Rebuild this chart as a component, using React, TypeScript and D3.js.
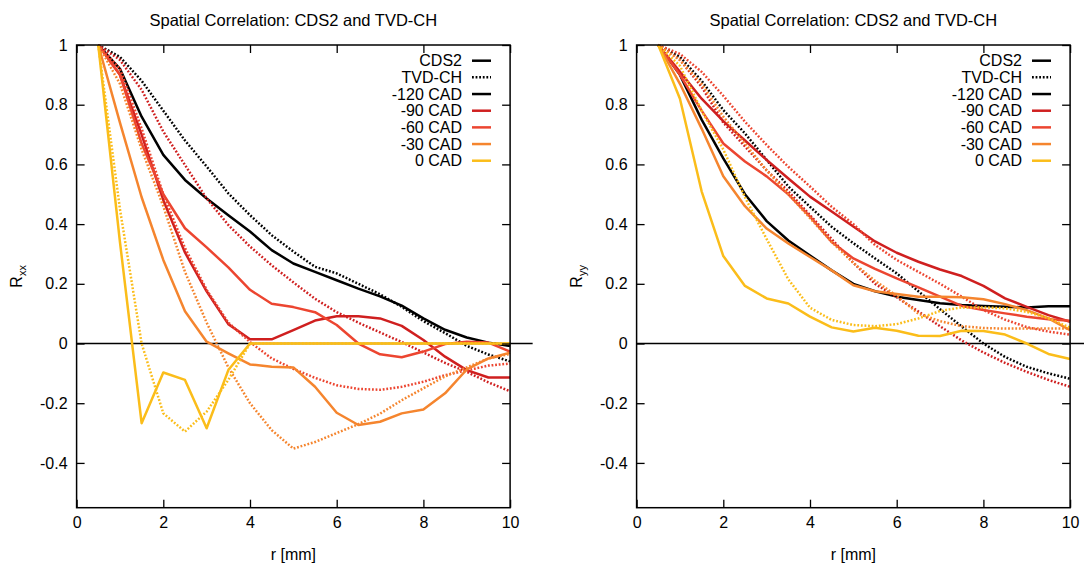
import React, { useEffect, useRef } from "react";
import * as d3 from "d3";

// r [mm] sample positions
const rValues = [0.5, 1, 1.5, 2, 2.5, 3, 3.5, 4, 4.5, 5, 5.5, 6, 6.5, 7, 7.5, 8, 8.5, 9, 9.5, 10];

const cadLabels = ["-120 CAD", "-90 CAD", "-60 CAD", "-30 CAD", "0 CAD"];
const cadColors = ["#000000", "#cf1f1f", "#ec4530", "#f5852e", "#fbbd1a"];

const xTicks = [0, 2, 4, 6, 8, 10];
const yTicks = [1, 0.8, 0.6, 0.4, 0.2, 0, -0.2, -0.4];
const yTickLabels = ["1", "0.8", "0.6", "0.4", "0.2", "0", "-0.2", "-0.4"];

// R_xx, CDS2 (solid)
const rxxCds2M120 = [1, 0.92, 0.76, 0.632, 0.548, 0.486, 0.43, 0.375, 0.313, 0.268, 0.24, 0.212, 0.184, 0.158, 0.127, 0.084, 0.046, 0.02, 0.003, -0.008];
const rxxCds2M90 = [1, 0.9, 0.7, 0.48, 0.305, 0.175, 0.065, 0.014, 0.014, 0.045, 0.077, 0.091, 0.091, 0.084, 0.059, 0.012, -0.044, -0.089, -0.114, -0.114];
const rxxCds2M60 = [1, 0.9, 0.67, 0.5, 0.386, 0.322, 0.255, 0.18, 0.133, 0.122, 0.105, 0.062, 0.0, -0.036, -0.046, -0.027, -0.002, 0.006, 0.003, -0.027];
const rxxCds2M30 = [1, 0.74, 0.49, 0.28, 0.108, 0.006, -0.033, -0.07, -0.078, -0.08, -0.145, -0.232, -0.273, -0.262, -0.234, -0.221, -0.167, -0.087, -0.05, -0.031];
const rxxCds2Z0 = [1, 0.34, -0.267, -0.097, -0.122, -0.284, -0.089, 0, 0, 0, 0, 0, 0, 0, 0, 0, 0, 0, 0, 0];

// R_xx, TVD-CH (dotted)
const rxxTvdM120 = [1, 0.96, 0.88, 0.78, 0.68, 0.593, 0.503, 0.43, 0.363, 0.308, 0.257, 0.235, 0.2, 0.165, 0.123, 0.075, 0.035, -0.008, -0.037, -0.06];
const rxxTvdM90 = [1, 0.95, 0.85, 0.71, 0.598, 0.486, 0.397, 0.325, 0.262, 0.205, 0.15, 0.105, 0.07, 0.037, 0.005, -0.03, -0.065, -0.095, -0.13, -0.16];
const rxxTvdM60 = [1, 0.92, 0.72, 0.5, 0.32, 0.18, 0.07, 0.005, -0.05, -0.085, -0.115, -0.14, -0.152, -0.155, -0.145, -0.128, -0.106, -0.09, -0.074, -0.067];
const rxxTvdM30 = [1, 0.87, 0.65, 0.46, 0.24, 0.07, -0.08, -0.2, -0.29, -0.352, -0.33, -0.3, -0.27, -0.235, -0.19, -0.15, -0.11, -0.08, -0.05, -0.035];
const rxxTvdZ0 = [1, 0.45, 0.0, -0.234, -0.295, -0.228, -0.122, 0, 0, 0, 0, 0, 0, 0, 0, 0, 0, 0, 0, 0];

// R_yy, CDS2 (solid)
const ryyCds2M120 = [1, 0.9, 0.75, 0.62, 0.5, 0.41, 0.345, 0.295, 0.245, 0.2, 0.175, 0.157, 0.146, 0.135, 0.129, 0.126, 0.123, 0.121, 0.125, 0.125];
const ryyCds2M90 = [1, 0.91, 0.82, 0.745, 0.68, 0.615, 0.553, 0.492, 0.442, 0.392, 0.342, 0.304, 0.274, 0.248, 0.226, 0.193, 0.151, 0.123, 0.095, 0.073];
const ryyCds2M60 = [1, 0.9, 0.78, 0.67, 0.61, 0.56, 0.5, 0.425, 0.34, 0.285, 0.25, 0.218, 0.188, 0.157, 0.126, 0.112, 0.101, 0.09, 0.081, 0.076];
const ryyCds2M30 = [1, 0.87, 0.72, 0.56, 0.46, 0.385, 0.335, 0.29, 0.245, 0.195, 0.175, 0.166, 0.157, 0.157, 0.155, 0.148, 0.132, 0.112, 0.084, 0.045];
const ryyCds2Z0 = [1, 0.82, 0.51, 0.293, 0.193, 0.151, 0.134, 0.09, 0.054, 0.04, 0.053, 0.043, 0.026, 0.025, 0.043, 0.042, 0.03, 0.0, -0.035, -0.052];

// R_yy, TVD-CH (dotted)
const ryyTvdM120 = [1, 0.96, 0.88, 0.782, 0.704, 0.615, 0.526, 0.458, 0.391, 0.336, 0.285, 0.235, 0.175, 0.115, 0.057, 0.0, -0.045, -0.078, -0.1, -0.118];
const ryyTvdM90 = [1, 0.95, 0.86, 0.74, 0.66, 0.58, 0.51, 0.43, 0.35, 0.27, 0.2, 0.155, 0.107, 0.058, 0.01, -0.03, -0.065, -0.095, -0.122, -0.145];
const ryyTvdM60 = [1, 0.97, 0.91, 0.83, 0.743, 0.665, 0.592, 0.526, 0.458, 0.4, 0.33, 0.28, 0.24, 0.2, 0.157, 0.112, 0.08, 0.055, 0.04, 0.03];
const ryyTvdM30 = [1, 0.95, 0.87, 0.76, 0.67, 0.58, 0.5, 0.42, 0.34, 0.27, 0.21, 0.16, 0.1, 0.075, 0.058, 0.052, 0.05, 0.05, 0.05, 0.05];
const ryyTvdZ0 = [1, 0.93, 0.78, 0.65, 0.49, 0.35, 0.215, 0.12, 0.079, 0.062, 0.058, 0.065, 0.084, 0.109, 0.121, 0.121, 0.118, 0.106, 0.085, 0.053];

const panels = [
  {
    title: "Spatial Correlation: CDS2 and TVD-CH",
    sub: "xx",
    dx: 0,
    cds2: [rxxCds2M120, rxxCds2M90, rxxCds2M60, rxxCds2M30, rxxCds2Z0],
    tvd: [rxxTvdM120, rxxTvdM90, rxxTvdM60, rxxTvdM30, rxxTvdZ0],
  },
  {
    title: "Spatial Correlation: CDS2 and TVD-CH",
    sub: "yy",
    dx: 560,
    cds2: [ryyCds2M120, ryyCds2M90, ryyCds2M60, ryyCds2M30, ryyCds2Z0],
    tvd: [ryyTvdM120, ryyTvdM90, ryyTvdM60, ryyTvdM30, ryyTvdZ0],
  },
];

const config = {
  width: 1084,
  height: 564,
  left: 76.6,
  plotw: 433.5,
  top: 45,
  bottom: 507.7,
  font: "'Liberation Sans', Arial, Helvetica, sans-serif",
  fontSize: 16,
  tick: 8,
  dots: "1.8,1.8",
};

function drawPanel(svg: any, p: any) {
  const x = d3.scaleLinear().domain([0, 10]).range([config.left + p.dx, config.left + p.dx + config.plotw]);
  const y = d3.scaleLinear().domain([-0.55, 1]).range([config.bottom, config.top]);
  const g = svg.append("g").attr("font-family", config.font);

  // zero axis runs a bit past the right frame
  g.append("line")
    .attr("x1", x(0)).attr("x2", x(10.52))
    .attr("y1", y(0)).attr("y2", y(0))
    .attr("stroke", "#000").attr("stroke-width", 1.3);

  const line = d3.line<number>().x((d, i) => x(rValues[i])).y((d) => y(d));

  p.cds2.forEach((vals: number[], k: number) => {
    g.append("path").attr("d", line(vals))
      .attr("fill", "none").attr("stroke", cadColors[k])
      .attr("stroke-width", 2.5).attr("stroke-linejoin", "round");
    g.append("path").attr("d", line(p.tvd[k]))
      .attr("fill", "none").attr("stroke", cadColors[k])
      .attr("stroke-width", 2.5).attr("stroke-dasharray", config.dots);
  });

  // axes, ticks mirrored inside the frame
  const styleAxis = (a: any) => {
    a.select(".domain").remove();
    a.selectAll("line").attr("stroke", "#000").attr("stroke-width", 1.3);
    a.selectAll("text").attr("font-family", config.font).attr("font-size", config.fontSize).attr("fill", "#000");
  };
  g.append("g").attr("transform", `translate(${x(0)},0)`)
    .call(d3.axisLeft(y).tickValues(yTicks).tickSize(-config.tick).tickPadding(9)
      .tickFormat((d, i) => yTickLabels[i]))
    .call(styleAxis);
  g.append("g").attr("transform", `translate(${x(10)},0)`)
    .call(d3.axisRight(y).tickValues(yTicks).tickSize(-config.tick).tickFormat(() => ""))
    .call(styleAxis);
  g.append("g").attr("transform", `translate(0,${y(-0.55)})`)
    .call(d3.axisBottom(x).tickValues(xTicks).tickSize(-config.tick).tickPadding(9)
      .tickFormat(d3.format("d")))
    .call(styleAxis);
  g.append("g").attr("transform", `translate(0,${y(1)})`)
    .call(d3.axisTop(x).tickValues(xTicks).tickSize(-config.tick).tickFormat(() => ""))
    .call(styleAxis);

  g.append("rect")
    .attr("x", x(0)).attr("y", y(1))
    .attr("width", x(10) - x(0)).attr("height", y(-0.55) - y(1))
    .attr("fill", "none").attr("stroke", "#000").attr("stroke-width", 1.5);

  // titles
  const cx = (x(0) + x(10)) / 2;
  g.append("text").attr("x", cx).attr("y", 20).attr("dy", "0.35em")
    .attr("text-anchor", "middle").attr("font-size", 16.5).text(p.title);
  g.append("text").attr("x", cx).attr("y", 554).attr("dy", "0.35em")
    .attr("text-anchor", "middle").attr("font-size", config.fontSize).text("r [mm]");
  const yl = g.append("text")
    .attr("transform", `translate(${p.dx + 22},${(y(1) + y(-0.55)) / 2}) rotate(-90)`)
    .attr("text-anchor", "middle").attr("font-size", config.fontSize);
  yl.append("tspan").text("R");
  yl.append("tspan").attr("font-size", 11).attr("dy", 4).text(p.sub);

  // legend
  const legendItems = [
    { label: "CDS2", color: "#000", dash: null },
    { label: "TVD-CH", color: "#000", dash: config.dots },
    ...cadLabels.map((l, i) => ({ label: l, color: cadColors[i], dash: null })),
  ];
  const lg = g.append("g");
  legendItems.forEach((it, i) => {
    const ly = 60.7 + i * 16.67;
    lg.append("text").attr("x", p.dx + 462).attr("y", ly).attr("dy", "0.35em")
      .attr("text-anchor", "end").attr("font-size", config.fontSize).text(it.label);
    lg.append("line").attr("x1", p.dx + 472).attr("x2", p.dx + 491)
      .attr("y1", ly).attr("y2", ly)
      .attr("stroke", it.color).attr("stroke-width", 2.5)
      .attr("stroke-dasharray", it.dash);
  });
}

export default function App() {
  const ref = useRef<SVGSVGElement>(null);
  useEffect(() => {
    document.body.style.margin = "0";
    const svg = d3.select(ref.current);
    svg.selectAll("*").remove();
    svg.append("rect").attr("width", config.width).attr("height", config.height).attr("fill", "#fff");
    panels.forEach((p) => drawPanel(svg, p));
  }, []);
  return <svg ref={ref} width={config.width} height={config.height} style={{ display: "block" }} />;
}
